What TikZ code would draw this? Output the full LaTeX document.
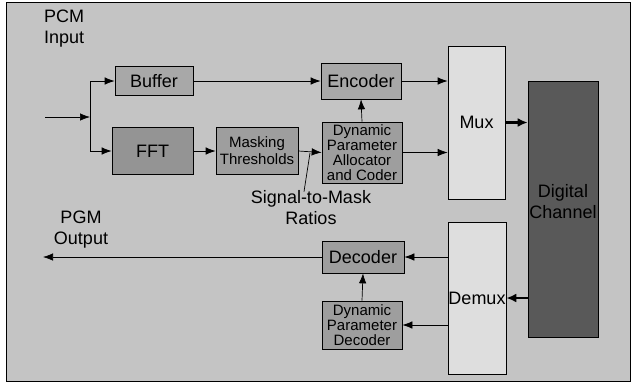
\documentclass[tikz,border=0pt]{standalone}
\usepackage{fontspec}
\setmainfont{Liberation Sans}
\usetikzlibrary{arrows.meta}
\definecolor{bgcol}{gray}{0.77}
\definecolor{boxA}{gray}{0.66}
\definecolor{boxB}{gray}{0.58}
\definecolor{boxC}{gray}{0.62}
\definecolor{muxcol}{gray}{0.87}
\definecolor{chancol}{gray}{0.35}
\tikzset{
  blk/.style={draw=black, line width=0.7pt, inner sep=0pt, align=center,
    font=\fontsize{18}{20}\selectfont},
  smallblk/.style={blk, font=\fontsize{15}{15}\selectfont},
  lbl/.style={inner sep=0pt, align=center, font=\fontsize{18}{21}\selectfont},
  arr/.style={draw=black, line width=0.7pt, -{Latex[length=10pt,width=7.5pt]}},
  thin/.style={draw=black, line width=0.7pt},
  thick arr/.style={draw=black, line width=2.4pt, -{Latex[length=10pt,width=9pt]}}
}
\begin{document}
\begin{tikzpicture}[x=1pt,y=-1pt]
\useasboundingbox (0,0) rectangle (632,384);
\fill[white] (0,0) rectangle (632,384);
\draw[fill=bgcol, line width=1pt] (6,2) rectangle (630,381);

\node[blk, fill=boxA, minimum width=78, minimum height=29] (buf) at (154,81) {Buffer};
\node[blk, fill=boxB, minimum width=81, minimum height=47] (fft) at (152.5,151) {FFT};
\node[smallblk, fill=boxC, minimum width=82, minimum height=47,
  font=\fontsize{15}{17}\selectfont] (mask) at (257,151) {Masking\\Thresholds};
\node[blk, fill=boxA, minimum width=80, minimum height=36] (enc) at (361,81) {Encoder};
\node[smallblk, fill=boxC, minimum width=80, minimum height=61] (dpa) at (362,152.5) {Dynamic\\Parameter\\Allocator\\and Coder};
\node[blk, fill=muxcol, minimum width=57, minimum height=153] (mux) at (476.5,122.5) {Mux};
\node[blk, fill=chancol, minimum width=70, minimum height=256] (chan) at (563,209) {};
\node[lbl, text=black] (chantxt) at (563,202) {Digital\\Channel};
\node[blk, fill=boxC, minimum width=82, minimum height=32] (dec) at (363,257) {Decoder};
\node[smallblk, fill=boxC, minimum width=80, minimum height=48] (dpd) at (362,325) {Dynamic\\Parameter\\Decoder};
\node[blk, fill=muxcol, minimum width=58, minimum height=152] (demux) at (477,298) {Demux};

\node[lbl, align=left, anchor=west] (pcm) at (44,29) {PCM\\Input};
\node[lbl] (pgm) at (81,230) {PGM\\Output};
\node[lbl] (smr) at (311,208) {Signal-to-Mask\\Ratios};

\coordinate (in) at (45,117);
\coordinate (j) at (90,117);
\coordinate (jt) at (90,81);
\coordinate (jb) at (90,151);
\coordinate (out) at (43,257);
\coordinate (lead) at (310,153);

\draw[arr] (in) -- (j);
\draw[thin] (jt) -- (jb);
\draw[arr] (jt) -- (buf.west);
\draw[arr] (jb) -- (fft.west);
\draw[arr] (buf.east) -- (enc.west);
\draw[arr] (fft.east) -- (mask.west);
\draw[arr] (mask.east) -- (dpa.west);
\draw[arr] (dpa.north) -- (enc.south);
\draw[arr] (enc.east) -- (enc.east -| mux.west);
\draw[arr] (dpa.east) -- (dpa.east -| mux.west);
\draw[thick arr] (mux.east) -- (mux.east -| chan.west);
\draw[thick arr] (demux.east -| chan.west) -- (demux.east);
\draw[arr] (dec.east -| demux.west) -- (dec.east);
\draw[arr] (dpd.east -| demux.west) -- (dpd.east);
\draw[arr] (dpd.north) -- (dec.south);
\draw[arr] (dec.west) -- (out);
\draw[thin] ([xshift=-7pt,yshift=-1pt]smr.north) -- (lead);
\end{tikzpicture}
\end{document}
